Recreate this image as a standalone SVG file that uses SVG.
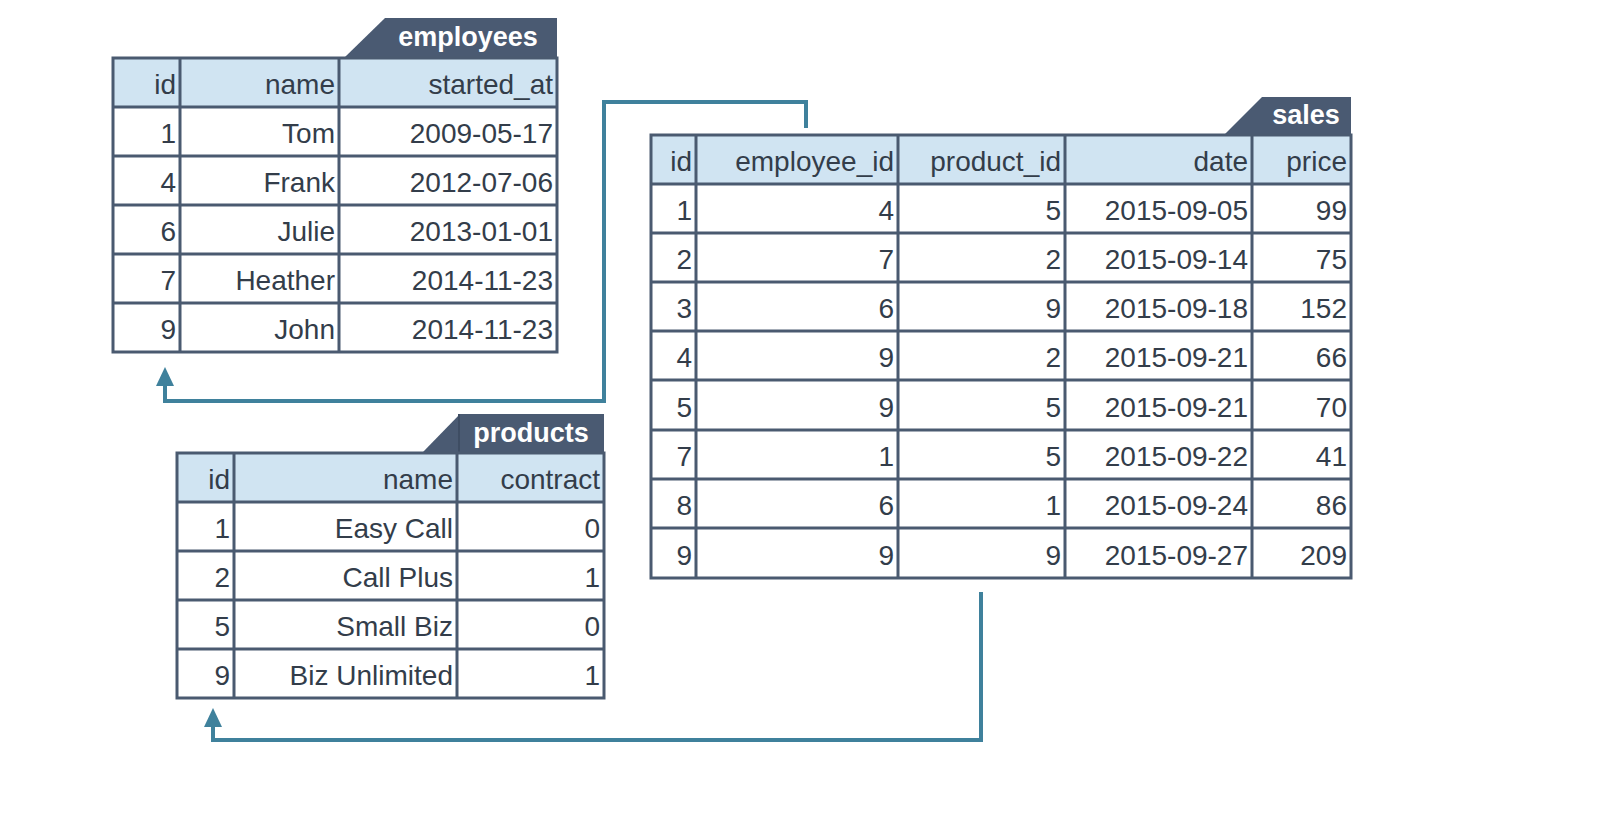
<svg xmlns="http://www.w3.org/2000/svg" width="1600" height="835" viewBox="0 0 1600 835">
<style>
.hd{fill:#d0e4f2}
.ln{stroke:#4a5a70;stroke-width:3;fill:none}
.t{font-family:"Liberation Sans",Arial,sans-serif;font-size:28px;fill:#333d4a;text-anchor:end}
.tab{fill:#4a5a72}
.tt{font-family:"Liberation Sans",Arial,sans-serif;font-size:27px;font-weight:bold;fill:#fff;text-anchor:middle}
.c{stroke:#3f819c;stroke-width:4;fill:none}
</style>
<defs><marker id="a" viewBox="0 0 10 10" refX="5" refY="10" markerWidth="5" markerHeight="5" orient="auto-start-reverse" markerUnits="userSpaceOnUse"><path d="M0,10 L5,0 L10,10 Z" fill="#3f819c"/></marker></defs>
<rect width="1600" height="835" fill="#fff"/>
<g id="connectors">
<path class="c" d="M806,128 V102 H604 V401 H165 V382"/>
<path d="M156,386 L165,367 L174,386 Z" fill="#3f819c"/>
<path class="c" d="M981,592 V740 H213 V722"/>
<path d="M204,727 L213,708 L222,727 Z" fill="#3f819c"/>
</g>
<g id="employees">
<path class="tab" d="M345,57 L385,18 H557 V57 Z"/>
<text class="tt" x="468" y="46">employees</text>
<rect class="hd" x="113" y="58" width="444" height="49"/>
<path class="ln" d="M113,58 H557 V352 H113 Z M113,107 H557 M113,156 H557 M113,205 H557 M113,254 H557 M113,303 H557 M180,58 V352 M339,58 V352"/>
<g class="t">
<text x="176" y="94">id</text><text x="335" y="94">name</text><text x="553" y="94">started_at</text>
<text x="176" y="143">1</text><text x="335" y="143">Tom</text><text x="553" y="143">2009-05-17</text>
<text x="176" y="192">4</text><text x="335" y="192">Frank</text><text x="553" y="192">2012-07-06</text>
<text x="176" y="241">6</text><text x="335" y="241">Julie</text><text x="553" y="241">2013-01-01</text>
<text x="176" y="290">7</text><text x="335" y="290">Heather</text><text x="553" y="290">2014-11-23</text>
<text x="176" y="339">9</text><text x="335" y="339">John</text><text x="553" y="339">2014-11-23</text>
</g>
</g>
<g id="sales">
<path class="tab" d="M1225,134 L1262,97 H1351 V134 Z"/>
<text class="tt" x="1306" y="124">sales</text>
<rect class="hd" x="651" y="135" width="700" height="49"/>
<path class="ln" d="M651,135 H1351 V578 H651 Z M651,184 H1351 M651,233 H1351 M651,282 H1351 M651,331 H1351 M651,380 H1351 M651,430 H1351 M651,479 H1351 M651,528 H1351 M696,135 V578 M898,135 V578 M1065,135 V578 M1252,135 V578"/>
<g class="t">
<text x="692" y="171">id</text><text x="894" y="171">employee_id</text><text x="1061" y="171">product_id</text><text x="1248" y="171">date</text><text x="1347" y="171">price</text>
<text x="692" y="220">1</text><text x="894" y="220">4</text><text x="1061" y="220">5</text><text x="1248" y="220">2015-09-05</text><text x="1347" y="220">99</text>
<text x="692" y="269">2</text><text x="894" y="269">7</text><text x="1061" y="269">2</text><text x="1248" y="269">2015-09-14</text><text x="1347" y="269">75</text>
<text x="692" y="318">3</text><text x="894" y="318">6</text><text x="1061" y="318">9</text><text x="1248" y="318">2015-09-18</text><text x="1347" y="318">152</text>
<text x="692" y="367">4</text><text x="894" y="367">9</text><text x="1061" y="367">2</text><text x="1248" y="367">2015-09-21</text><text x="1347" y="367">66</text>
<text x="692" y="417">5</text><text x="894" y="417">9</text><text x="1061" y="417">5</text><text x="1248" y="417">2015-09-21</text><text x="1347" y="417">70</text>
<text x="692" y="466">7</text><text x="894" y="466">1</text><text x="1061" y="466">5</text><text x="1248" y="466">2015-09-22</text><text x="1347" y="466">41</text>
<text x="692" y="515">8</text><text x="894" y="515">6</text><text x="1061" y="515">1</text><text x="1248" y="515">2015-09-24</text><text x="1347" y="515">86</text>
<text x="692" y="565">9</text><text x="894" y="565">9</text><text x="1061" y="565">9</text><text x="1248" y="565">2015-09-27</text><text x="1347" y="565">209</text>
</g>
</g>
<g id="products">
<path class="tab" d="M423,452 L460,414 H604 V452 Z"/>
<path d="M459,414 V452" stroke="#3e4d63" stroke-width="2"/>
<text class="tt" x="531" y="442">products</text>
<rect class="hd" x="177" y="453" width="427" height="49"/>
<path class="ln" d="M177,453 H604 V698 H177 Z M177,502 H604 M177,551 H604 M177,600 H604 M177,649 H604 M234,453 V698 M457,453 V698"/>
<g class="t">
<text x="230" y="489">id</text><text x="453" y="489">name</text><text x="600" y="489">contract</text>
<text x="230" y="538">1</text><text x="453" y="538">Easy Call</text><text x="600" y="538">0</text>
<text x="230" y="587">2</text><text x="453" y="587">Call Plus</text><text x="600" y="587">1</text>
<text x="230" y="636">5</text><text x="453" y="636">Small Biz</text><text x="600" y="636">0</text>
<text x="230" y="685">9</text><text x="453" y="685">Biz Unlimited</text><text x="600" y="685">1</text>
</g>
</g>
</svg>
